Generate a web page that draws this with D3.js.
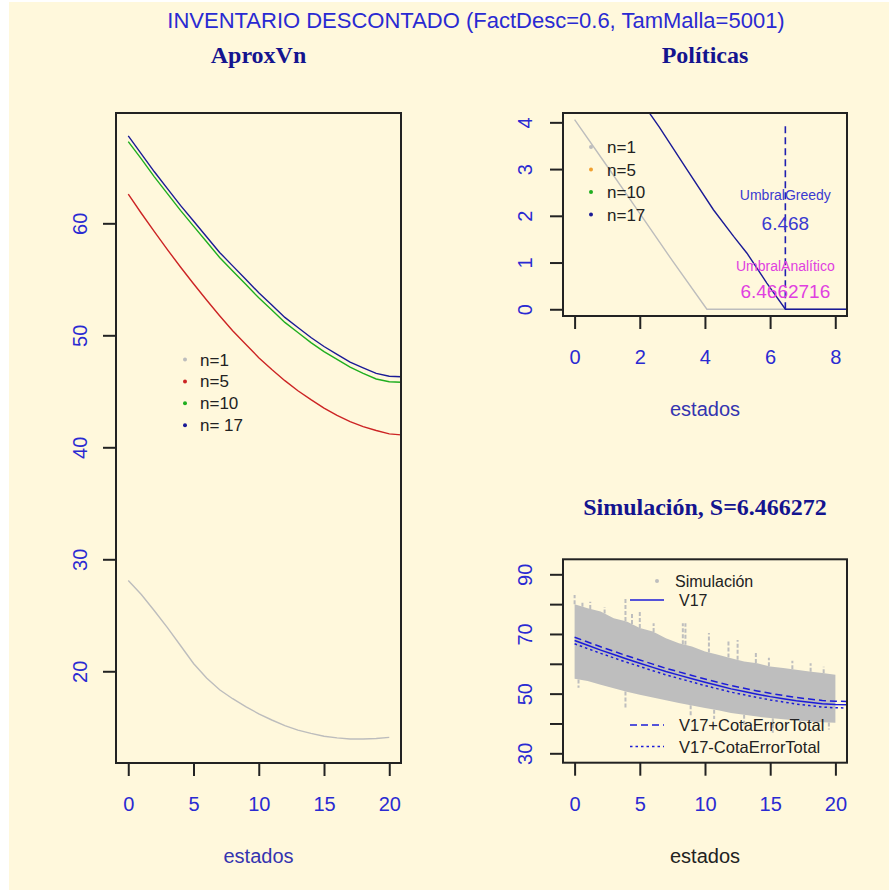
<!DOCTYPE html>
<html>
<head>
<meta charset="utf-8">
<script src="https://cdn.jsdelivr.net/npm/d3@7/dist/d3.min.js"></script>
<style>
  body { margin: 0; background: #fff; }
</style>
</head>
<body>
<div id="chart"></div>
<script>
// ---- data ----
const estados = [0, 1, 2, 3, 4, 5, 6, 7, 8, 9, 10, 11, 12, 13, 14, 15, 16, 17, 18, 19, 20, 21];

// AproxVn
const vn1 = [28.1, 26.85, 25.4, 23.9, 22.3, 20.7, 19.4, 18.35, 17.55, 16.85, 16.2, 15.65, 15.15, 14.75, 14.45, 14.2, 14.05, 13.95, 13.95, 14.0, 14.1];
const vn5 = [62.6, 60.9, 59.25, 57.65, 56.1, 54.6, 53.15, 51.75, 50.4, 49.2, 48.0, 46.95, 45.95, 45.05, 44.25, 43.5, 42.85, 42.3, 41.85, 41.5, 41.2, 41.1];
const vn10 = [67.3, 65.75, 64.15, 62.65, 61.15, 59.75, 58.35, 56.95, 55.75, 54.55, 53.35, 52.25, 51.15, 50.25, 49.35, 48.55, 47.85, 47.15, 46.6, 46.1, 45.85, 45.8];
const vn17 = [67.8, 66.2, 64.6, 63.1, 61.6, 60.2, 58.8, 57.4, 56.2, 55.0, 53.8, 52.7, 51.6, 50.7, 49.8, 49.0, 48.3, 47.6, 47.1, 46.6, 46.35, 46.3];

// Politicas
const polEstados1 = [0, 1, 2, 3, 4.06, 8.4];
const pol1 = [4.06, 3.06, 2.05, 1.04, 0, 0];
const polEstados17 = [0, 2.6, 3.45, 4.26, 4.88, 5.29, 5.9, 6.47, 8.4];
const pol17 = [6.47, 3.9, 2.99, 2.13, 1.56, 1.2, 0.56, 0, 0];
const umbralGreedy = 6.468;
const umbralAnalitico = 6.4662716;

// Simulacion (gray cloud as envelope + spikes)
const simEstados = [0, 1, 2, 3, 4, 5, 6, 7, 8, 9, 10, 11, 12, 13, 14, 15, 16, 17, 18, 19, 20];
const simArriba = [80, 78.6, 77.5, 75.3, 74.2, 72, 70.8, 68.6, 66.9, 65.8, 64.1, 63, 61.9, 60.8, 60.2, 59.1, 58.6, 58, 57.4, 56.9, 56.3];
const simAbajo = [55, 54.2, 53, 51.8, 50.6, 49.6, 48.7, 47.8, 46.9, 46, 45.2, 44.4, 43.5, 42.9, 42.3, 41.8, 41.4, 41.0, 40.7, 40.4, 40.2];
const picosArriba = [[0, 83.1], [0.6, 81], [1.2, 80.8], [2.3, 79], [3.9, 82], [4.4, 77], [5, 77.5], [6.06, 73.6], [8.3, 73.6], [8.5, 73.6], [10.3, 70.3], [11.8, 68], [12.5, 68], [13.9, 64.1], [14.9, 62], [16.7, 61], [18.1, 60.2], [19.1, 59]];
const picosAbajo = [[0.3, 52], [3.9, 45.2], [8.9, 42.5], [10.7, 41.5], [13, 39.5], [15.2, 36.9], [17.3, 36.9], [19.5, 38]];
const cotaErrorTotal = 1.1;

const ticksVn = [20, 30, 40, 50, 60];
const ticksPol = [0, 1, 2, 3, 4];
const ticksSim = [30, 40, 50, 60, 70, 80, 90];
const etiquetasSim = [30, 50, 70, 90];

// ---- drawing ----
const W = 889, H = 890;
const azul = '#2a2ad2';
const azulTitulo = '#14148f';
const sans = '"Liberation Sans", Arial, sans-serif';
const serif = '"Liberation Serif", "Times New Roman", serif';

const svg = d3.select('#chart').append('svg').attr('width', W).attr('height', H);
svg.append('rect').attr('x', 9).attr('y', 2).attr('width', W - 9).attr('height', H - 2).attr('fill', '#fff8dc');

svg.append('text')
  .attr('x', 476).attr('y', 28)
  .attr('text-anchor', 'middle')
  .attr('font-family', sans).attr('font-size', 22)
  .attr('fill', azul)
  .text('INVENTARIO DESCONTADO (FactDesc=0.6, TamMalla=5001)');

const makePanel = (cfg) => {
  const x = d3.scaleLinear().domain(cfg.xDomain).range([cfg.left, cfg.right]);
  const y = d3.scaleLinear().domain(cfg.yDomain).range([cfg.bottom, cfg.top]);
  const g = svg.append('g');

  g.append('clipPath').attr('id', cfg.id)
    .append('rect')
    .attr('x', cfg.left).attr('y', cfg.top)
    .attr('width', cfg.right - cfg.left).attr('height', cfg.bottom - cfg.top);

  // x axis
  const xa = g.append('g')
    .attr('transform', `translate(0,${cfg.bottom})`)
    .call(d3.axisBottom(x).tickValues(cfg.xTicks).tickSize(13).tickFormat(d3.format('d')));
  xa.select('.domain').remove();
  xa.selectAll('line').attr('stroke', '#222').attr('stroke-width', 2);
  xa.selectAll('text')
    .attr('y', 48).attr('dy', 0)
    .attr('font-family', sans).attr('font-size', 20)
    .attr('fill', azul);

  // y axis
  const ya = g.append('g')
    .attr('transform', `translate(${cfg.left},0)`)
    .call(d3.axisLeft(y).tickValues(cfg.yTicks).tickSize(13)
      .tickFormat((d) => (cfg.yLabels.includes(d) ? d : '')));
  ya.select('.domain').remove();
  ya.selectAll('line').attr('stroke', '#222').attr('stroke-width', 2);
  ya.selectAll('text')
    .attr('transform', 'rotate(-90)')
    .attr('x', 0).attr('dy', 0).attr('y', cfg.yLabelOffset)
    .attr('text-anchor', 'middle')
    .attr('font-family', sans).attr('font-size', 20)
    .attr('fill', azul);

  g.append('text')
    .attr('x', (cfg.left + cfg.right) / 2).attr('y', cfg.bottom + 100)
    .attr('text-anchor', 'middle')
    .attr('font-family', sans).attr('font-size', 20)
    .attr('fill', cfg.labColor)
    .text('estados');

  g.append('text')
    .attr('x', (cfg.left + cfg.right) / 2).attr('y', cfg.titleY)
    .attr('text-anchor', 'middle')
    .attr('font-family', serif).attr('font-weight', 'bold').attr('font-size', 24)
    .attr('fill', azulTitulo)
    .text(cfg.title);

  const plot = g.append('g').attr('clip-path', `url(#${cfg.id})`);
  return { x, y, g, plot, cfg };
};

const drawBox = (p) => {
  p.g.append('rect')
    .attr('x', p.cfg.left).attr('y', p.cfg.top)
    .attr('width', p.cfg.right - p.cfg.left).attr('height', p.cfg.bottom - p.cfg.top)
    .attr('fill', 'none').attr('stroke', '#222').attr('stroke-width', 2);
};

const legend = (p, items, px, tx, y0, dy, size = 17) => {
  items.forEach((it, i) => {
    const yy = y0 + i * dy;
    if (it.type === 'point') {
      p.g.append('circle').attr('cx', px).attr('cy', yy).attr('r', 2).attr('fill', it.color);
    } else {
      p.g.append('line')
        .attr('x1', px - 17).attr('x2', px + 17).attr('y1', yy).attr('y2', yy)
        .attr('stroke', it.color).attr('stroke-width', 1.6)
        .attr('stroke-dasharray', it.dash || null);
    }
    p.g.append('text')
      .attr('x', tx).attr('y', yy + 6)
      .attr('font-family', sans).attr('font-size', size)
      .attr('fill', '#222')
      .text(it.label);
  });
};

// ---- panel 1: AproxVn ----
const p1 = makePanel({
  id: 'clipVn', title: 'AproxVn', titleY: 63,
  left: 116, right: 401, top: 113, bottom: 763,
  xDomain: [-0.94, 20.9], yDomain: [11.81, 69.85],
  xTicks: [0, 5, 10, 15, 20], yTicks: ticksVn, yLabels: ticksVn,
  yLabelOffset: -29, labColor: '#3434b0',
});

const series = [
  { vals: vn1, color: '#bdbdbd' },
  { vals: vn5, color: '#cc2424' },
  { vals: vn10, color: '#1fae1f' },
  { vals: vn17, color: '#1a1a96' },
];
series.forEach((s) => {
  p1.plot.append('path')
    .datum(s.vals.map((v, i) => [estados[i], v]))
    .attr('fill', 'none').attr('stroke', s.color).attr('stroke-width', 1.4)
    .attr('d', d3.line().x((d) => p1.x(d[0])).y((d) => p1.y(d[1])));
});
drawBox(p1);
legend(p1, [
  { type: 'point', color: '#bdbdbd', label: 'n=1' },
  { type: 'point', color: '#cc2424', label: 'n=5' },
  { type: 'point', color: '#1fae1f', label: 'n=10' },
  { type: 'point', color: '#1a1a96', label: 'n= 17' },
], 185, 200, 359.5, 21.9);

// ---- panel 2: Politicas ----
const p2 = makePanel({
  id: 'clipPol', title: 'Políticas', titleY: 63,
  left: 563, right: 847, top: 113, bottom: 316,
  xDomain: [-0.356, 8.36], yDomain: [-0.144, 4.2],
  xTicks: [0, 2, 4, 6, 8], yTicks: ticksPol, yLabels: ticksPol,
  yLabelOffset: -31, labColor: '#3434b0',
});
const polLine = d3.line().x((d) => p2.x(d[0])).y((d) => p2.y(d[1]));
p2.plot.append('path')
  .datum(pol1.map((v, i) => [polEstados1[i], v]))
  .attr('fill', 'none').attr('stroke', '#bdbdbd').attr('stroke-width', 1.4)
  .attr('d', polLine);
p2.plot.append('path')
  .datum(pol17.map((v, i) => [polEstados17[i], v]))
  .attr('fill', 'none').attr('stroke', '#1a1a96').attr('stroke-width', 1.4)
  .attr('d', polLine);
p2.plot.append('line')
  .attr('x1', p2.x(umbralGreedy)).attr('x2', p2.x(umbralGreedy))
  .attr('y1', p2.y(0)).attr('y2', p2.y(4))
  .attr('stroke', '#2020b0').attr('stroke-width', 1.6).attr('stroke-dasharray', '7,4');

const polText = [
  { t: 'UmbralGreedy', v: 2.45, size: 14, color: '#3a3ad0' },
  { t: String(umbralGreedy), v: 1.84, size: 19, color: '#3a3ad0' },
  { t: 'UmbralAnalítico', v: 0.93, size: 14, color: '#e040e0' },
  { t: String(umbralAnalitico), v: 0.38, size: 19, color: '#e040e0' },
];
polText.forEach((d) => {
  p2.g.append('text')
    .attr('x', p2.x(umbralGreedy)).attr('y', p2.y(d.v))
    .attr('dy', '0.36em')
    .attr('text-anchor', 'middle')
    .attr('font-family', sans).attr('font-size', d.size)
    .attr('fill', d.color)
    .text(d.t);
});
drawBox(p2);
legend(p2, [
  { type: 'point', color: '#bdbdbd', label: 'n=1' },
  { type: 'point', color: '#f0a030', label: 'n=5' },
  { type: 'point', color: '#1fae1f', label: 'n=10' },
  { type: 'point', color: '#1a1a96', label: 'n=17' },
], 591, 607, 147, 22.5);

// ---- panel 3: Simulacion ----
const p3 = makePanel({
  id: 'clipSim', title: 'Simulación, S=6.466272', titleY: 515,
  left: 563, right: 847, top: 559.3, bottom: 762.7,
  xDomain: [-0.89, 20.89], yDomain: [26.85, 95.03],
  xTicks: [0, 5, 10, 15, 20], yTicks: ticksSim, yLabels: etiquetasSim,
  yLabelOffset: -31, labColor: '#222',
});
const gris = '#bebebe';
p3.plot.append('path')
  .datum(simEstados.map((s, i) => [s, simArriba[i], simAbajo[i]]))
  .attr('fill', gris)
  .attr('d', d3.area().x((d) => p3.x(d[0])).y0((d) => p3.y(d[2])).y1((d) => p3.y(d[1])));

const bandAt = (arr, s) => {
  const i = Math.min(Math.floor(s), simEstados.length - 2);
  const t = s - simEstados[i];
  return arr[i] + (arr[i + 1] - arr[i]) * t;
};
p3.plot.selectAll('.picoA')
  .data(picosArriba)
  .join('line')
  .attr('x1', (d) => p3.x(d[0])).attr('x2', (d) => p3.x(d[0]))
  .attr('y1', (d) => p3.y(bandAt(simArriba, d[0]))).attr('y2', (d) => p3.y(d[1]))
  .attr('stroke', gris).attr('stroke-width', 2).attr('stroke-dasharray', '4,2');
p3.plot.selectAll('.picoB')
  .data(picosAbajo)
  .join('line')
  .attr('x1', (d) => p3.x(d[0])).attr('x2', (d) => p3.x(d[0]))
  .attr('y1', (d) => p3.y(bandAt(simAbajo, d[0]))).attr('y2', (d) => p3.y(d[1]))
  .attr('stroke', gris).attr('stroke-width', 2).attr('stroke-dasharray', '4,2');

const simLine = d3.line().x((d) => p3.x(d[0])).y((d) => p3.y(d[1]));
p3.plot.append('path')
  .datum(vn17.map((v, i) => [estados[i], v]))
  .attr('fill', 'none').attr('stroke', '#1c1cd8').attr('stroke-width', 1.5)
  .attr('d', simLine);
p3.plot.append('path')
  .datum(vn17.map((v, i) => [estados[i], v + cotaErrorTotal]))
  .attr('fill', 'none').attr('stroke', '#1c1cd8').attr('stroke-width', 1.5)
  .attr('stroke-dasharray', '7,4')
  .attr('d', simLine);
p3.plot.append('path')
  .datum(vn17.map((v, i) => [estados[i], v - cotaErrorTotal]))
  .attr('fill', 'none').attr('stroke', '#1c1cd8').attr('stroke-width', 1.5)
  .attr('stroke-dasharray', '2.5,3')
  .attr('d', simLine);
drawBox(p3);

legend(p3, [{ type: 'point', color: gris, label: 'Simulación' }], 657, 675, 581, 20, 16);
legend(p3, [{ type: 'line', color: '#1c1cd8', label: 'V17' }], 647, 679, 600, 20, 16);
legend(p3, [
  { type: 'line', color: '#1c1cd8', dash: '7,4', label: 'V17+CotaErrorTotal' },
  { type: 'line', color: '#1c1cd8', dash: '2.5,3', label: 'V17-CotaErrorTotal' },
], 647, 679, 725, 21.5, 16.5);
</script>
</body>
</html>
